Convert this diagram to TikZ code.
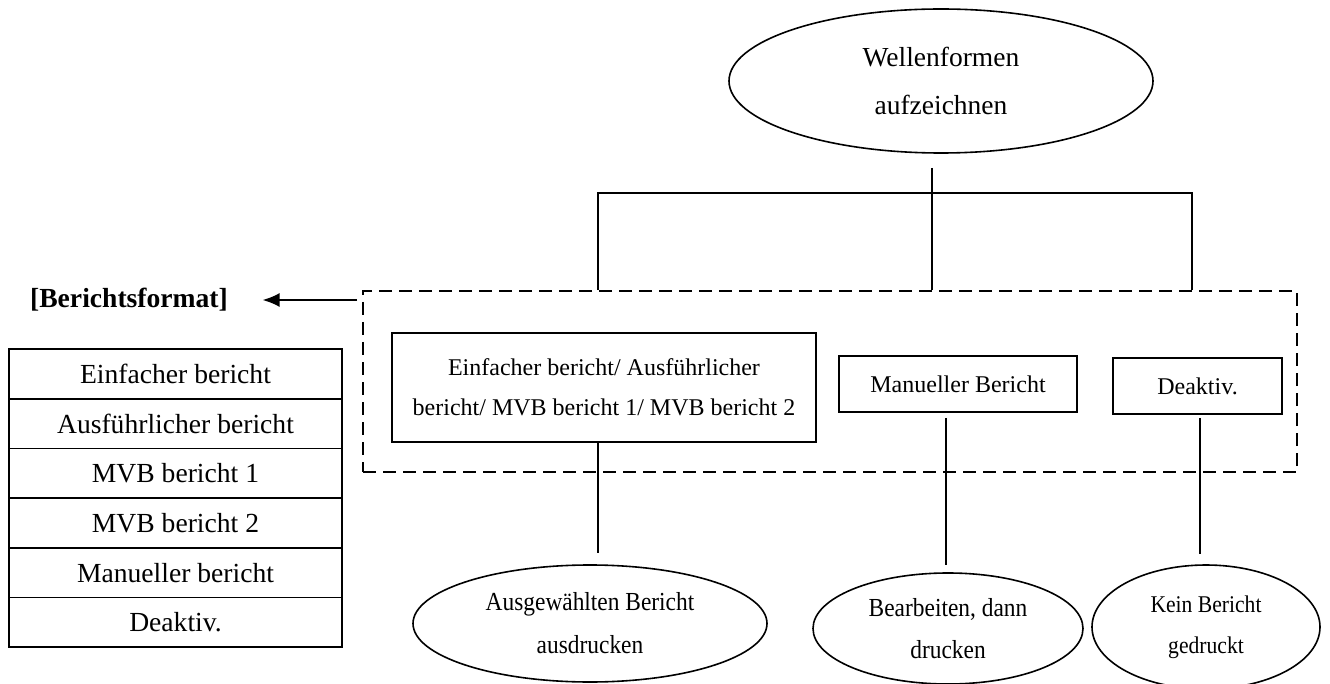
\documentclass[tikz,border=0pt]{standalone}
\usepackage{fontspec}
\setmainfont{Liberation Serif}
\usetikzlibrary{shapes.geometric,arrows.meta,calc}
% narrow lettering used inside the outcome ellipses
\newcommand{\narrowtext}[1]{\scalebox{0.9}[1]{#1}}
\begin{document}
\begin{tikzpicture}[x=1pt,y=-1pt,line width=1.6pt,
  oval/.style={draw,ellipse,inner sep=0pt,align=center},
  boxnode/.style={draw,rectangle,inner sep=0pt,align=center},
  cell/.style={draw,rectangle,inner sep=0pt,minimum width=333pt,minimum height=49.7pt,
    font=\fontsize{27.6}{33}\selectfont},
  dashframe/.style={draw,dash pattern=on 13pt off 7pt,inner sep=0pt},
  pointer/.style={-{Latex[length=17pt,width=14pt]},line width=1.6pt}]
\useasboundingbox (0,0) rectangle (1330,684);
\clip (0,0) rectangle (1330,684);

% root
\node[oval,minimum width=424pt,minimum height=144pt,font=\fontsize{27.5}{48}\selectfont]
  (top) at (941,81) {Wellenformen\\aufzeichnen};

% dashed group of report formats
\node[dashframe,minimum width=934pt,minimum height=181pt] (fr) at (830,381.5) {};

\node[boxnode,minimum width=424pt,minimum height=109pt,font=\fontsize{24}{40}\selectfont]
  (b1) at (604,387.5) {Einfacher bericht/ Ausführlicher\\bericht/ MVB bericht 1/ MVB bericht 2};
\node[boxnode,minimum width=238pt,minimum height=56pt,font=\fontsize{24}{29}\selectfont]
  (b2) at (958,384) {Manueller Bericht};
\node[boxnode,minimum width=169pt,minimum height=56pt,font=\fontsize{24}{29}\selectfont]
  (b3) at (1197.5,386) {Deaktiv.};

% label and list of formats
\node[inner sep=0pt,font=\bfseries\fontsize{27.6}{33}\selectfont] (lbl) at (129,300) {[Berichtsformat]};
\node[cell] (r1) at (175.5,373.85) {Einfacher bericht};
\node[cell] (r2) at (175.5,423.55) {Ausführlicher bericht};
\node[cell] (r3) at (175.5,473.25) {MVB bericht 1};
\node[cell] (r4) at (175.5,522.95) {MVB bericht 2};
\node[cell] (r5) at (175.5,572.65) {Manueller bericht};
\node[cell] (r6) at (175.5,622.35) {Deaktiv.};

% outcomes
\node[oval,minimum width=354pt,minimum height=117pt,font=\fontsize{26}{43}\selectfont]
  (e1) at (590,623.5) {\narrowtext{Ausgewählten Bericht}\\\narrowtext{ausdrucken}};
\node[oval,minimum width=270pt,minimum height=111pt,font=\fontsize{26}{42}\selectfont]
  (e2) at (948,628.5) {\narrowtext{Bearbeiten, dann}\\\narrowtext{drucken}};
\node[oval,minimum width=228pt,minimum height=124pt,font=\fontsize{24}{41}\selectfont]
  (e3) at (1206,627) {\narrowtext{Kein Bericht}\\\narrowtext{gedruckt}};

% tree connectors
\coordinate (hm) at (932,193);
\coordinate (hl) at (598,193);
\coordinate (hr) at (1192,193);
\draw[shorten <=14pt] (hm |- top.south) -- (hm |- fr.north);
\draw (hl |- fr.north) -- (hl) -- (hr) -- (hr |- fr.north);

\coordinate (d1) at (598,553);
\coordinate (d2) at (946,565);
\coordinate (d3) at (1200,554);
\draw (d1 |- b1.south) -- (d1);
\draw[shorten <=5pt] (d2 |- b2.south) -- (d2);
\draw[shorten <=3pt] (d3 |- b3.south) -- (d3);

% pointer to the label
\coordinate (arr) at (357,300);
\draw[pointer] (arr) -- ([xshift=34pt]lbl.east);
\end{tikzpicture}
\end{document}
